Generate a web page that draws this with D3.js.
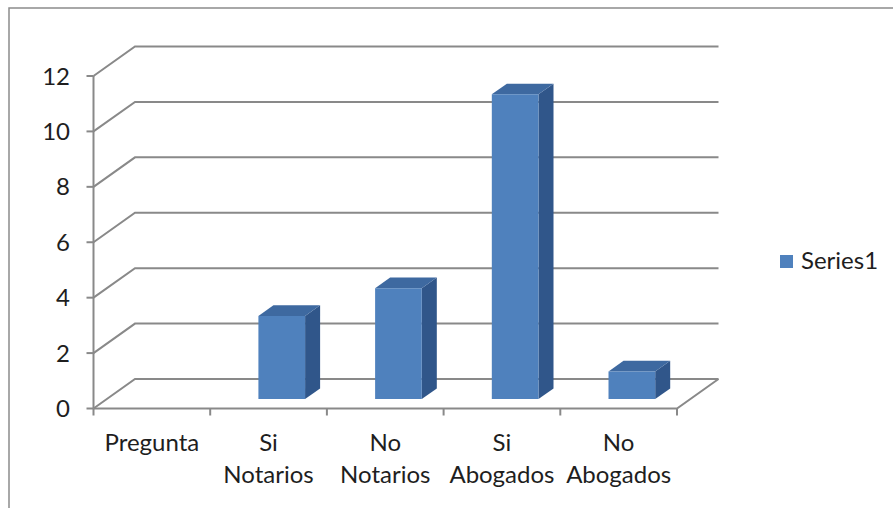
<!DOCTYPE html>
<html>
<head>
<meta charset="utf-8">
<script src="https://cdn.jsdelivr.net/npm/d3@7"></script>
<style>
  html, body { margin: 0; padding: 0; background: #fff; }
  svg { display: block; }
  text { font-family: Lato, "Open Sans", sans-serif; fill: #1e1e1e; }
</style>
</head>
<body>
<svg id="chart" width="893" height="508"></svg>
<script>
// Survey answers per group
const categories = ["Pregunta", "Si Notarios", "No Notarios", "Si Abogados", "No Abogados"];
const values = [0, 3, 4, 11, 1];
const seriesName = "Series1";
const yTicks = [0, 2, 4, 6, 8, 10, 12];

const W = 893, H = 508;
const svg = d3.select("#chart");

// Plot box (front plane) and the depth offset of the 3D floor
const x0 = 93.5, x1 = 677;
const DX = 41.5, DY = -29.5;
const fontSize = 24;

const x = d3.scaleBand().domain(categories).range([x0, x1]).paddingInner(0).paddingOuter(0);
const y = d3.scaleLinear().domain([0, 12]).range([408.5, 76]);

// Project a point at value v, depth z (0 front .. 1 back)
const P = (px, v, z) => [px + z * DX, y(v) + z * DY];
const pathOf = pts => "M" + pts.map(p => p[0].toFixed(2) + "," + p[1].toFixed(2)).join("L");

const grid = "#898989";

// Outer chart frame
svg.append("rect")
  .attr("x", 9).attr("y", 8).attr("width", 920).attr("height", 540)
  .attr("fill", "none").attr("stroke", "#8c8c8c").attr("stroke-width", 1.5);

// Gridlines across side wall and back wall
svg.append("g").selectAll("path").data(yTicks).join("path")
  .attr("d", t => pathOf([P(x0, t, 0), P(x0, t, 1), P(x1, t, 1)]))
  .attr("fill", "none").attr("stroke", grid).attr("stroke-width", 2);

// Floor front and right edges
svg.append("path")
  .attr("d", pathOf([P(x0, 0, 0), P(x1, 0, 0), P(x1, 0, 1)]))
  .attr("fill", "none").attr("stroke", grid).attr("stroke-width", 2);

// Columns
const bw = x.bandwidth() * 0.4;
const zF = 0.318, zB = 0.68;
const bars = categories.map((c, i) => ({ c, v: values[i] })).filter(d => d.v > 0);
const gBars = svg.append("g");
bars.forEach(d => {
  const l = x(d.c) + (x.bandwidth() - bw) / 2, r = l + bw;
  const g = gBars.append("g");
  // right side face
  g.append("path")
    .attr("d", pathOf([P(r, 0, zF), P(r, 0, zB), P(r, d.v, zB), P(r, d.v, zF)]) + "Z")
    .attr("fill", "#30568a");
  // top face
  g.append("path")
    .attr("d", pathOf([P(l, d.v, zF), P(r, d.v, zF), P(r, d.v, zB), P(l, d.v, zB)]) + "Z")
    .attr("fill", "#3e69a0");
  // front face
  g.append("path")
    .attr("d", pathOf([P(l, 0, zF), P(r, 0, zF), P(r, d.v, zF), P(l, d.v, zF)]) + "Z")
    .attr("fill", "#4f81bd");
});

// Value axis line, ticks and labels
svg.append("line")
  .attr("x1", x0).attr("x2", x0).attr("y1", y(0)).attr("y2", y(12))
  .attr("stroke", grid).attr("stroke-width", 2);
svg.append("g").selectAll("line").data(yTicks).join("line")
  .attr("x1", x0 - 7).attr("x2", x0).attr("y1", t => y(t)).attr("y2", t => y(t))
  .attr("stroke", grid).attr("stroke-width", 2);
svg.append("g").selectAll("text").data(yTicks).join("text")
  .attr("x", 70).attr("y", t => y(t)).attr("dy", "0.36em")
  .attr("text-anchor", "end").attr("font-size", fontSize)
  .text(t => t);

// Category ticks along front floor edge
const bounds = categories.map(c => x(c)).concat([x1]);
svg.append("g").selectAll("line").data(bounds).join("line")
  .attr("x1", b => b).attr("x2", b => b).attr("y1", y(0)).attr("y2", y(0) + 7)
  .attr("stroke", grid).attr("stroke-width", 2);

// Category labels (wrapped on spaces)
const lab = svg.append("g").selectAll("text").data(categories).join("text")
  .attr("text-anchor", "middle").attr("font-size", fontSize)
  .attr("transform", c => `translate(${x(c) + x.bandwidth() / 2},451)`);
lab.each(function(c) {
  const words = c.split(" ");
  d3.select(this).selectAll("tspan").data(words).join("tspan")
    .attr("x", 0).attr("y", (w, i) => i * 32).text(w => w);
});

// Legend
const lg = svg.append("g").attr("transform", "translate(780,255)");
lg.append("rect").attr("width", 13).attr("height", 13).attr("fill", "#4f81bd");
lg.append("text").attr("x", 21).attr("y", 14).attr("font-size", fontSize).text(seriesName);
</script>
</body>
</html>
